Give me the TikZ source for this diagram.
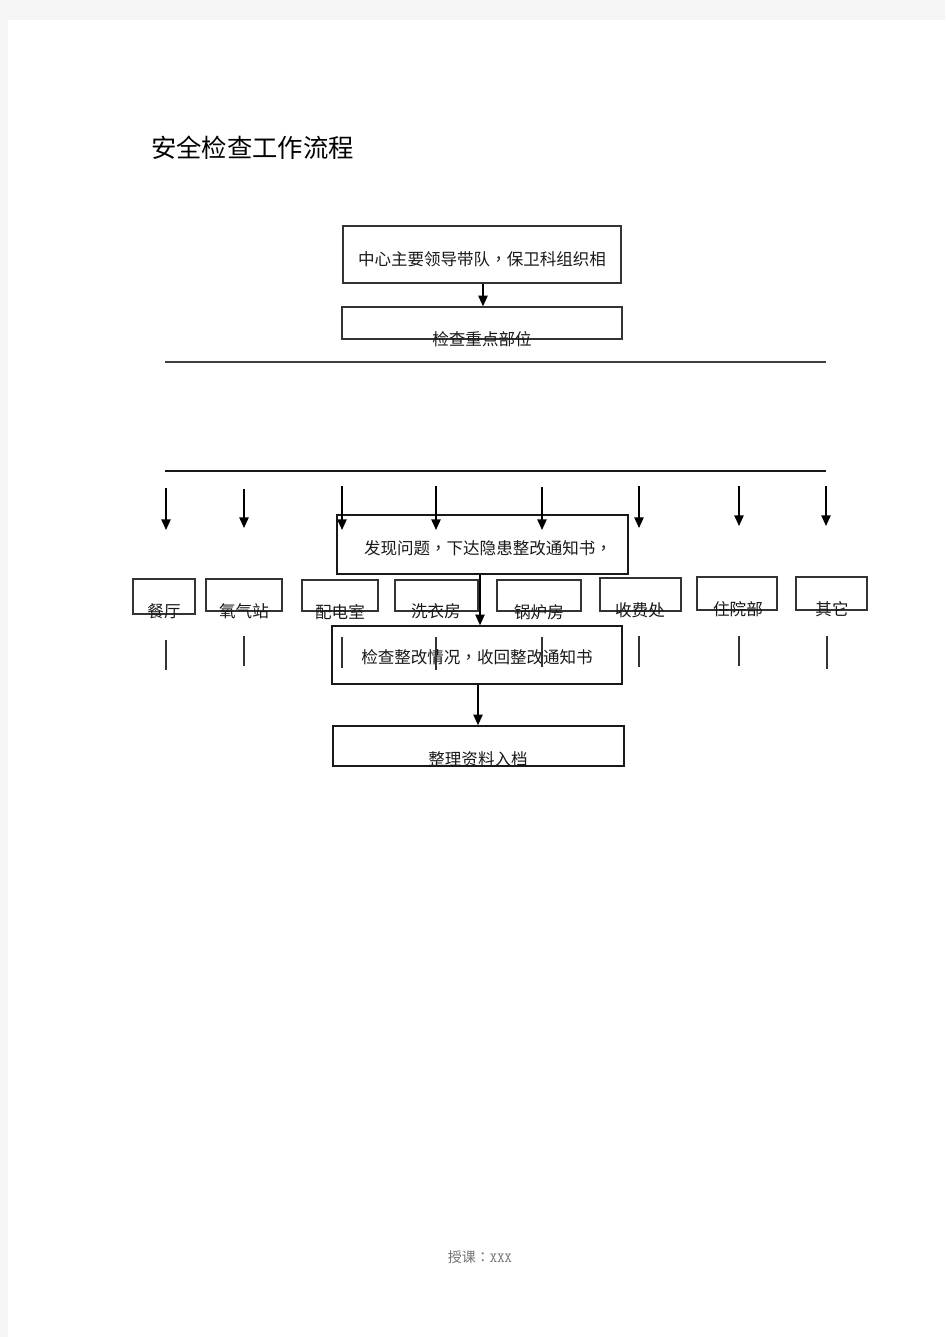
\documentclass[tikz,border=0pt]{standalone}
\usepackage{fontspec}
\newfontfamily\cjk{Noto Sans CJK SC}
\newfontfamily\cjktc{Noto Sans CJK TC}
\newcommand\cm{{\cjktc ，}}
\usetikzlibrary{arrows.meta,fit}
\begin{document}
\begin{tikzpicture}[x=0.75pt,y=-0.75pt,
  box/.style={draw=black!80,line width=1pt,inner sep=0pt,rectangle},
  txt/.style={font=\cjk\fontsize{12.4pt}{14pt}\selectfont,inner sep=0pt,text=black!90},
  arr/.style={draw=black,line width=1.1pt,-{Triangle[length=8pt,width=7pt]}},
  stub/.style={draw=black!80,line width=1pt},
  hline/.style={draw=black!75,line width=1.1pt}]
% page background
\fill[black!4] (0,0) rectangle (945,1337);
\fill[white] (8,20) rectangle (945,1337);
\useasboundingbox (0,0) rectangle (945,1337);
% title
\node[font=\cjk\fontsize{19pt}{22pt}\selectfont,inner sep=0pt,anchor=west] (title) at (151,148) {安全检查工作流程};
% top boxes
\node[box,fit={(343,226) (621,283)}] (b1) {};
\node[txt] (t1) at (482,259) {中心主要领导带队\cm 保卫科组织相};
\node[box,fit={(342,307) (622,339)}] (b2) {};
\node[txt] (t2) at (482,339) {检查重点部位};
\draw[arr] (b1.south -| 483,0) -- (b2.north -| 483,0);
% horizontal lines
\coordinate (h1a) at (165,362); \coordinate (h1b) at (826,362);
\coordinate (h2a) at (165,471); \coordinate (h2b) at (826,471);
\draw[hline] (h1a) -- (h1b);
\draw[hline,draw=black!90] (h2a) -- (h2b);
% notice box
\node[box,line width=1.2pt,draw=black!90,fit={(337,515) (628,574)}] (fx) {};
\node[txt] (tfx) at (488,548) {发现问题\cm 下达隐患整改通知书\cm};
% check box
\node[box,line width=1.2pt,draw=black!90,fit={(332,626) (622,684)}] (jc) {};
\node[txt] (tjc) at (477,657) {检查整改情况\cm 收回整改通知书};
% archive box
\node[box,line width=1.2pt,draw=black!90,fit={(333,726) (624,766)}] (zl) {};
\node[txt] (tzl) at (478,759) {整理资料入档};
% small boxes
\node[box,fit={(133,579) (195,614)}] (s1) {};
\node[txt] (ts1) at (164,611) {餐厅};
\node[box,fit={(206,579) (282,611)}] (s2) {};
\node[txt] (ts2) at (244,611) {氧气站};
\node[box,fit={(302,580) (378,611)}] (s3) {};
\node[txt] (ts3) at (340,612) {配电室};
\node[box,fit={(395,580) (478,611)}] (s4) {};
\node[txt] (ts4) at (436,611) {洗衣房};
\node[box,fit={(497,580) (581,611)}] (s5) {};
\node[txt] (ts5) at (539,612) {锅炉房};
\node[box,fit={(600,578) (681,611)}] (s6) {};
\node[txt] (ts6) at (640,610) {收费处};
\node[box,fit={(697,577) (777,610)}] (s7) {};
\node[txt] (ts7) at (738,609) {住院部};
\node[box,fit={(796,577) (867,610)}] (s8) {};
\node[txt] (ts8) at (832,609) {其它};
% down arrows
\foreach \n/\x/\ya/\yb in {1/166/488/530, 2/244/489/528, 3/342/486/530, 4/436/486/530, 5/542/487/530, 6/639/486/528, 7/739/486/526, 8/826/486/526}{
  \coordinate (da\n) at (\x,\ya);
  \coordinate (db\n) at (\x,\yb);
  \draw[arr] (da\n) -- (db\n);
}
% short stubs
\foreach \n/\x/\ya/\yb/\w in {1/166/640/670/1pt, 2/244/636/666/1pt, 3/342/637/668/1.6pt, 4/436/637/670/0.8pt, 5/542/637/667/1.4pt, 6/639/636/667/1pt, 7/739/636/666/1pt, 8/827/636/669/1pt}{
  \coordinate (sa\n) at (\x,\ya);
  \coordinate (sb\n) at (\x,\yb);
  \draw[stub,line width=\w] (sa\n) -- (sb\n);
}
% vertical flow arrows
\draw[arr] (fx.south -| 480,0) -- (jc.north -| 480,0);
\draw[arr] (jc.south -| 478,0) -- (zl.north -| 478,0);
% footer
\node[inner sep=0pt,text=black!55,font=\cjk\fontsize{10.5pt}{12pt}\selectfont] (foot) at (480,1257) {授课{\cjktc ：}{\ttfamily XXX}};
\end{tikzpicture}
\end{document}
